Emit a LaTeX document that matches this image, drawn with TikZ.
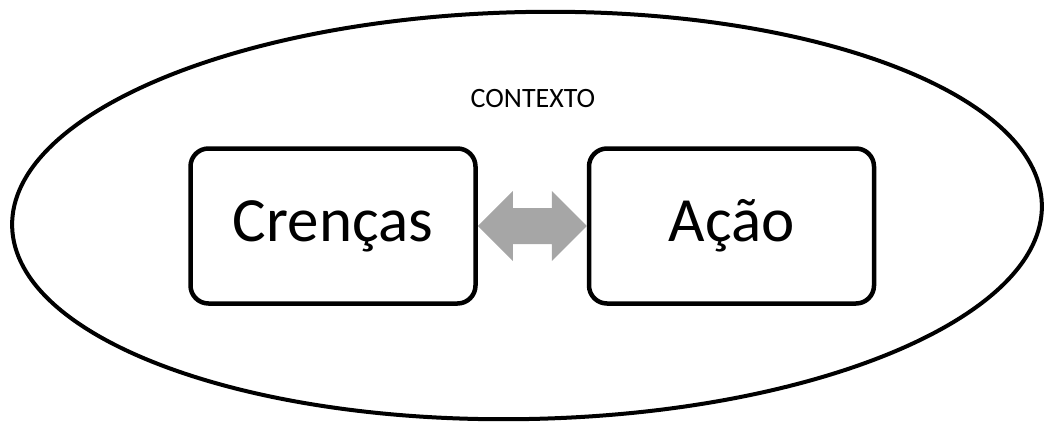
\documentclass[tikz,border=0pt]{standalone}
\usepackage{fontspec}
\setmainfont{Carlito}
\usetikzlibrary{shapes.geometric,calc}
\definecolor{arrowgray}{HTML}{A6A6A6}
\tikzset{
  ctxshape/.style={draw=black, line width=4pt, ellipse, inner sep=0pt,
    minimum width=1030pt, minimum height=407pt},
  conceptbox/.style={draw=black, line width=4.5pt, rounded corners=18pt,
    minimum width=285pt, minimum height=155pt, inner sep=0pt,
    font=\fontsize{63}{75}\selectfont},
  ctxlabel/.style={font=\fontsize{28}{34}\selectfont, inner sep=0pt}
}
\begin{document}
\begin{tikzpicture}[x=1pt,y=-1pt]
\useasboundingbox (0,0) rectangle (1046,421);
\node[ctxshape, rotate=1.2] (ctx) at (527,215.5) {};
\node[ctxlabel] (lbl) at (533,99) {CONTEXTO};
\node[conceptbox] (c) at (333,226) {\raisebox{-2pt}{Crenças}};
\node[conceptbox] (a) at (731.5,226) {\raisebox{-2pt}{Ação}};
\fill[arrowgray] (c.east) -- ($(c.east)+(35,-35)$) -- ($(c.east)+(35,-18)$)
  -- ($(a.west)+(-35,-18)$) -- ($(a.west)+(-35,-35)$) -- (a.west)
  -- ($(a.west)+(-35,35)$) -- ($(a.west)+(-35,18)$)
  -- ($(c.east)+(35,18)$) -- ($(c.east)+(35,35)$) -- cycle;
\end{tikzpicture}
\end{document}
